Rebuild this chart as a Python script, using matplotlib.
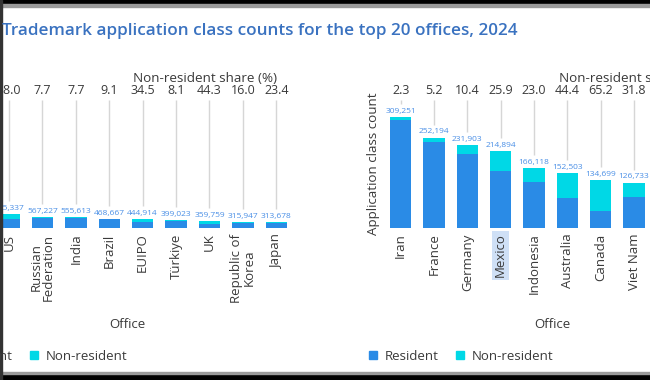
import matplotlib
matplotlib.use("Agg")
import matplotlib.pyplot as plt
from matplotlib.patches import Patch, Rectangle

plt.rcParams['font.family'] = ['Open Sans', 'DejaVu Sans']

# left panel (cropped on its left side)
left_offices = ["US", "Russian\nFederation", "India", "Brazil", "EUIPO", "Türkiye", "UK",
                "Republic of\nKorea", "Japan"]
left_totals = [695337, 567227, 555613, 468667, 444914, 399023, 359759, 315947, 313678]
left_share = [38.0, 7.7, 7.7, 9.1, 34.5, 8.1, 44.3, 16.0, 23.4]

# right panel (cropped on its right side)
right_offices = ["Iran", "France", "Germany", "Mexico", "Indonesia", "Australia", "Canada", "Viet Nam"]
right_totals = [309251, 252194, 231903, 214894, 166118, 152503, 134699, 126733]
right_share = [2.3, 5.2, 10.4, 25.9, 23.0, 44.4, 65.2, 31.8]

RES = "#2a8be6"
NONRES = "#00d8e6"
VAL = "#4a8fe6"
TXT = "#3a3a3a"

W, H = 650, 380


def panel(ax, offices, totals, share, ytop, xlim):
    res = [t * (1 - s / 100) for t, s in zip(totals, share)]
    nonres = [t - r for t, r in zip(totals, res)]
    x = range(len(offices))
    ax.bar(x, res, width=0.64, color=RES)
    ax.bar(x, nonres, bottom=res, width=0.64, color=NONRES)
    ax.set_ylim(0, ytop)
    ax.set_xlim(*xlim)
    px = ytop / (ax.get_position().height * H)
    for i, t in enumerate(totals):
        ax.annotate(f"{t:,}", (i, t), xytext=(0, 1.5), textcoords="offset points",
                    ha="center", va="bottom", fontsize=6, color=VAL)
        bottom = t + 13 * px
        if bottom < ytop:
            ax.vlines(i, bottom, ytop, color="#d6d6d6", lw=1, clip_on=False)
        ax.text(i, 1.02, f"{share[i]:.1f}", transform=ax.get_xaxis_transform(),
                ha="center", va="bottom", fontsize=9, color=TXT)
    ax.set_xticks(list(x))
    ax.set_xticklabels(offices, rotation=90, fontsize=9.5, color=TXT, linespacing=0.9)
    ax.tick_params(axis="x", length=0, pad=4)
    ax.set_yticks([])
    for sp in ax.spines.values():
        sp.set_visible(False)


fig = plt.figure(figsize=(W / 100, H / 100), dpi=100)
axL = fig.add_axes([0, 152 / H, 293 / W, 128 / H])
axR = fig.add_axes([384 / W, 152 / H, 266 / W, 128 / H])

panel(axL, left_offices, left_totals, left_share, 6.4e6, (-0.27, 8.5))
panel(axR, right_offices, right_totals, right_share, 3.57e5, (-0.5, 7.48))

# highlighted tick (selection in the source)
axR.get_xticklabels()[3].set_bbox(dict(facecolor="#cfe0f6", edgecolor="none", pad=1.5))

axL.text(0.70, 1.165, "Non-resident share (%)", transform=axL.transAxes,
         ha="center", va="center", fontsize=9.7, color=TXT)
axR.text(0.658, 1.165, "Non-resident share (%)", transform=axR.transAxes,
         ha="left", va="center", fontsize=9.7, color=TXT)
axR.set_ylabel("Application class count", fontsize=9.6, color=TXT, labelpad=3)

fig.text(127 / W, 1 - 325 / H, "Office", ha="center", va="center", fontsize=9.5, color=TXT)
fig.text(552 / W, 1 - 325 / H, "Office", ha="center", va="center", fontsize=9.5, color=TXT)

fig.text(2 / W, 1 - 31 / H, "Trademark application class counts for the top 20 offices, 2024",
         ha="left", va="center", fontsize=12.3, color="#3a72c0", fontweight="semibold")

handles = [Patch(color=RES, label="Resident"), Patch(color=NONRES, label="Non-resident")]
for x0 in (-57 / W, 369 / W):
    fig.legend(handles=handles, ncol=2, frameon=False, loc="center left",
               bbox_to_anchor=(x0, 1 - 356 / H), bbox_transform=fig.transFigure,
               fontsize=9.5, handlelength=0.6, handleheight=0.6, handletextpad=0.6,
               columnspacing=1.3, borderpad=0, borderaxespad=0, labelcolor=TXT)

# screenshot frame
fig.patches.append(Rectangle((0, 1 - 4 / H), 1, 4 / H, transform=fig.transFigure, color="black"))
fig.patches.append(Rectangle((0, 1 - 7 / H), 1, 3 / H, transform=fig.transFigure, color="#9a9a9a"))
fig.patches.append(Rectangle((0, 0), 1, 6 / H, transform=fig.transFigure, color="black"))
fig.patches.append(Rectangle((0, 6 / H), 1, 2 / H, transform=fig.transFigure, color="#9a9a9a"))
fig.patches.append(Rectangle((0, 0), 1.5 / W, 1, transform=fig.transFigure, color="#333333"))

plt.savefig("out.png", dpi=100)
